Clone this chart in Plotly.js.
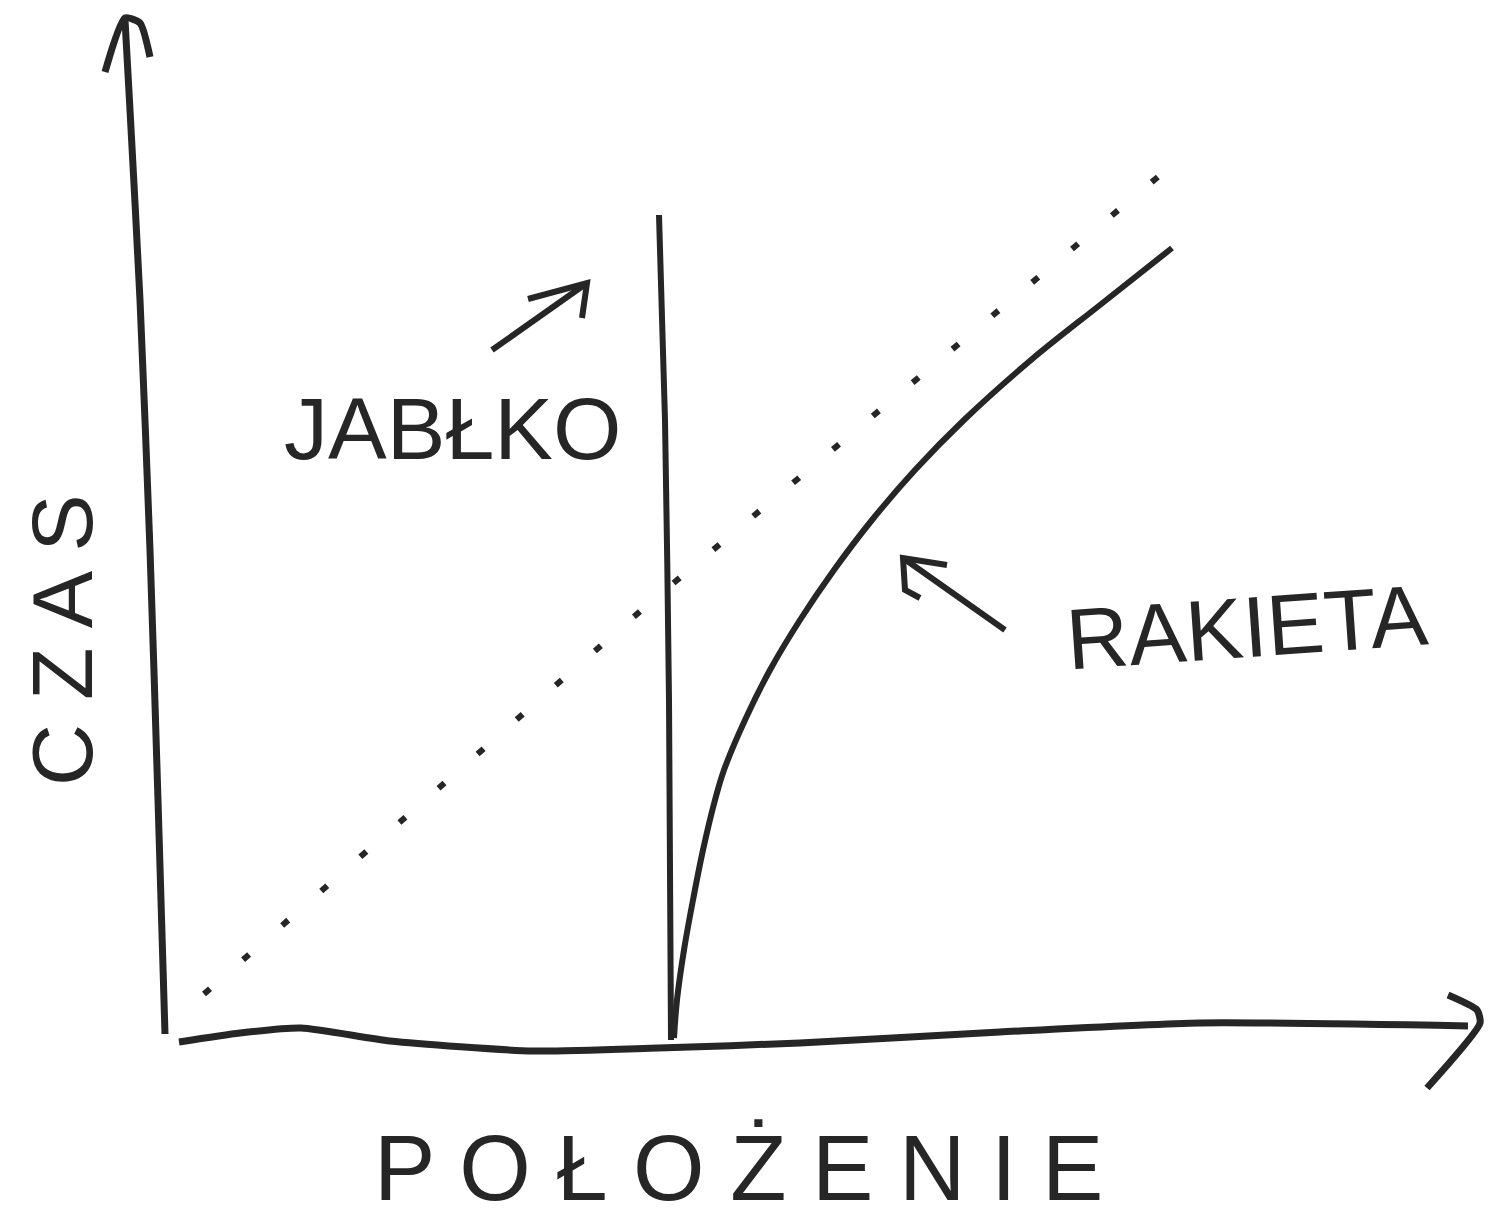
<!DOCTYPE html>
<html>
<head>
<meta charset="utf-8">
<script src="https://cdn.plot.ly/plotly-3.0.1.min.js"></script>
<style>html,body{margin:0;padding:0;background:#fff;}#chart{width:1495px;height:1230px;}</style>
</head>
<body>
<div id="chart"></div>
<script>
// ---- data (position = x, time = y, arbitrary units) ----
const timeAxisX = [0.00, -0.07, -0.15, -0.25, -0.35, -0.40];
const timeAxisY = [0.01, 2.35, 4.85, 7.35, 9.25, 10.15];
const timeArrowX = [-0.60, -0.40, -0.25, -0.15];
const timeArrowY = [9.63, 10.17, 10.12, 9.78];

const posAxisX = [0.14, 0.75, 1.36, 2.25, 3.68, 4.93, 6.35, 8.35, 10.35, 13.03];
const posAxisY = [-0.07, 0.02, 0.07, -0.06, -0.16, -0.13, -0.08, 0.03, 0.12, 0.09];
const posArrowX = [12.83, 13.12, 13.15, 12.62];
const posArrowY = [0.40, 0.25, 0.12, -0.53];

const appleX = [4.94, 5.00, 5.04, 5.06];
const appleT = [8.20, 6.15, 3.35, -0.05];

const rocketX = [5.09, 5.12, 5.19, 5.28, 5.38, 5.50, 5.59, 5.80, 6.05, 6.35, 6.69, 7.07, 7.50, 7.99, 8.66, 9.35, 10.07];
const rocketT = [-0.03, 0.35, 0.85, 1.35, 1.85, 2.35, 2.65, 3.15, 3.65, 4.15, 4.65, 5.15, 5.65, 6.15, 6.75, 7.30, 7.87];

const lightX = [0.39, 4.80, 10.25];
const lightT = [0.41, 4.28, 8.85];

const appleArrowX = [3.27, 4.22];
const appleArrowY = [6.85, 7.52];
const appleHeadX = [3.63, 4.22, 4.17];
const appleHeadY = [7.36, 7.52, 7.17];

const rocketArrowX = [8.40, 7.38];
const rocketArrowY = [4.05, 4.77];
const rocketHeadX = [7.82, 7.38, 7.40, 7.55];
const rocketHeadY = [4.70, 4.77, 4.45, 4.37];

const labels = ["JABŁKO", "RAKIETA", "P O Ł O Ż E N I E", "C Z A S"];
const labelX = [2.87, 10.82, 5.73, -1.03];
const labelY = [6.07, 4.08, -1.33, 3.95];
const labelAngle = [0, -4, 0, -90];
const labelSize = [88, 86, 92, 86];

// ---- drawing ----
const ink = "#262626";
function stroke(x, y, w, smooth) {
  return {
    x: x, y: y, mode: "lines", type: "scatter", hoverinfo: "skip",
    line: smooth ? {color: ink, width: w, shape: "spline", smoothing: smooth}
                 : {color: ink, width: w}
  };
}
const traces = [
  stroke(timeAxisX, timeAxisY, 7, 0.6),
  stroke(timeArrowX, timeArrowY, 7, 0.6),
  stroke(posAxisX, posAxisY, 7, 0.6),
  stroke(posArrowX, posArrowY, 7, 0.6),
  stroke(appleX, appleT, 6, 0.6),
  stroke(rocketX, rocketT, 6, 1.0),
  {x: lightX, y: lightT, mode: "lines", type: "scatter", hoverinfo: "skip",
   line: {color: ink, width: 6, dash: "8px,44px"}},
  stroke(appleArrowX, appleArrowY, 6, 0),
  stroke(appleHeadX, appleHeadY, 6, 0),
  stroke(rocketArrowX, rocketArrowY, 6, 0),
  stroke(rocketHeadX, rocketHeadY, 6, 0)
];

const annotations = labels.map((t, i) => ({
  x: labelX[i], y: labelY[i], xref: "x", yref: "y", text: t, showarrow: false,
  textangle: labelAngle[i], xanchor: "center", yanchor: "middle",
  font: {family: "Liberation Sans, Arial, sans-serif", size: labelSize[i], color: ink}
}));

const layout = {
  width: 1495, height: 1230,
  margin: {l: 0, r: 0, t: 0, b: 0},
  paper_bgcolor: "#ffffff", plot_bgcolor: "#ffffff",
  showlegend: false,
  xaxis: {range: [-1.65, 13.30], visible: false, fixedrange: true},
  yaxis: {range: [-1.95, 10.35], visible: false, fixedrange: true},
  annotations: annotations
};

Plotly.newPlot("chart", traces, layout, {staticPlot: true, displayModeBar: false});
</script>
</body>
</html>
